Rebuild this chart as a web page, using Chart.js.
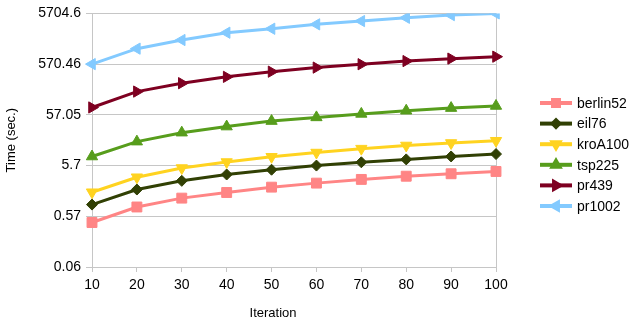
<!DOCTYPE html>
<html>
<head>
<meta charset="utf-8">
<script src="https://cdn.jsdelivr.net/npm/chart.js@4/dist/chart.umd.min.js"></script>
<style>
  html, body { margin: 0; padding: 0; background: #fff; }
  #wrap { width: 629px; height: 327px; }
</style>
</head>
<body>
<div id="wrap"><canvas id="chart" width="629" height="327"></canvas></div>
<script>
// iterations on the x axis
const iterations = ['10', '20', '30', '40', '50', '60', '70', '80', '90', '100'];

// time in seconds
const berlin52 = [0.43, 0.87, 1.30, 1.68, 2.14, 2.57, 3.04, 3.52, 3.93, 4.36];
const eil76 = [0.97, 1.92, 2.85, 3.80, 4.72, 5.70, 6.62, 7.55, 8.62, 9.62];
const kroA100 = [1.70, 3.36, 5.10, 6.70, 8.50, 10.3, 12.3, 14.2, 15.9, 17.6];
const tsp225 = [8.6, 16.9, 25.4, 33.5, 43.0, 50.8, 59.5, 68.7, 77.5, 85.3];
const pr439 = [79.7, 164, 240, 320, 405, 487, 568, 655, 732, 800];
const pr1002 = [570.5, 1151, 1704, 2373, 2842, 3469, 4028, 4678, 5283, 5704.6];

// y axis ticks (one per decade) and their printed labels
const yTickValues = [0.057046, 0.57046, 5.7046, 57.046, 570.46, 5704.6];
const yTickLabels = ['0.06', '0.57', '5.7', '57.05', '570.46', '5704.6'];

const gridGray = '#c6c6c6';
Chart.defaults.font.family = "'Liberation Sans', Arial, sans-serif";
Chart.defaults.color = '#000';

const series = [
  { label: 'berlin52', data: berlin52, color: '#ff8585', style: 'rect', rotation: 0, radius: 7 },
  { label: 'eil76', data: eil76, color: '#314004', style: 'rectRot', rotation: 0, radius: 5.5 },
  { label: 'kroA100', data: kroA100, color: '#ffd320', style: 'triangle', rotation: 180, radius: 6.5 },
  { label: 'tsp225', data: tsp225, color: '#579d1c', style: 'triangle', rotation: 0, radius: 6.5 },
  { label: 'pr439', data: pr439, color: '#7e0021', style: 'triangle', rotation: 90, radius: 6.5 },
  { label: 'pr1002', data: pr1002, color: '#83caff', style: 'triangle', rotation: 270, radius: 6.5 }
];

// legend on the right: short line with the marker in the middle
const sideLegend = {
  id: 'sideLegend',
  afterDraw(chart) {
    const ctx = chart.ctx;
    const x0 = 540, y0 = 103, step = 20.6;
    ctx.save();
    chart.data.datasets.forEach((ds, i) => {
      const y = y0 + i * step;
      ctx.strokeStyle = ds.borderColor;
      ctx.fillStyle = ds.borderColor;
      ctx.lineWidth = 4;
      ctx.beginPath();
      ctx.moveTo(x0, y);
      ctx.lineTo(x0 + 32, y);
      ctx.stroke();
      Chart.helpers.drawPoint(ctx, {
        pointStyle: ds.pointStyle,
        rotation: ds.pointRotation,
        radius: ds.pointRadius * 0.6,
        borderWidth: 1
      }, x0 + 16, y);
      ctx.fillStyle = '#000';
      ctx.font = "14px 'Liberation Sans', Arial, sans-serif";
      ctx.textBaseline = 'middle';
      ctx.textAlign = 'left';
      ctx.fillText(ds.label, x0 + 37, y + 1);
    });
    // x axis title, centred on the area left of the legend
    ctx.font = "13px 'Liberation Sans', Arial, sans-serif";
    ctx.textAlign = 'center';
    ctx.fillText('Iteration', 273, 313);
    ctx.restore();
  }
};

new Chart(document.getElementById('chart'), {
  type: 'line',
  data: {
    labels: iterations,
    datasets: series.map(s => ({
      label: s.label,
      data: s.data,
      borderColor: s.color,
      backgroundColor: s.color,
      borderWidth: 3,
      pointStyle: s.style,
      pointRotation: s.rotation,
      pointRadius: s.radius,
      pointBorderWidth: 1,
      tension: 0
    }))
  },
  options: {
    responsive: false,
    animation: false,
    layout: { padding: { left: 0, top: 12, right: 133, bottom: 0 } },
    plugins: {
      legend: { display: false },
      tooltip: { enabled: false }
    },
    scales: {
      x: {
        afterFit: (scale) => { scale.height = 60; },
        grid: {
          color: (ctx) => ctx.index === iterations.length - 1 ? gridGray : 'transparent',
          tickColor: gridGray,
          tickLength: 5
        },
        border: { color: gridGray },
        ticks: { font: { size: 14 }, padding: 5, maxRotation: 0 }
      },
      y: {
        type: 'logarithmic',
        min: yTickValues[0],
        max: yTickValues[yTickValues.length - 1],
        afterFit: (scale) => { scale.width = 92; },
        afterBuildTicks: (scale) => {
          scale.ticks = yTickValues.map(v => ({ value: v }));
        },
        grid: { color: gridGray, tickLength: 6 },
        border: { color: gridGray },
        ticks: {
          font: { size: 14 },
          padding: 5,
          callback: (v, i) => yTickLabels[i]
        },
        title: {
          display: true,
          text: 'Time (sec.)',
          font: { size: 13 },
          padding: { top: 4, bottom: 0 }
        }
      }
    }
  },
  plugins: [sideLegend]
});
</script>
</body>
</html>
